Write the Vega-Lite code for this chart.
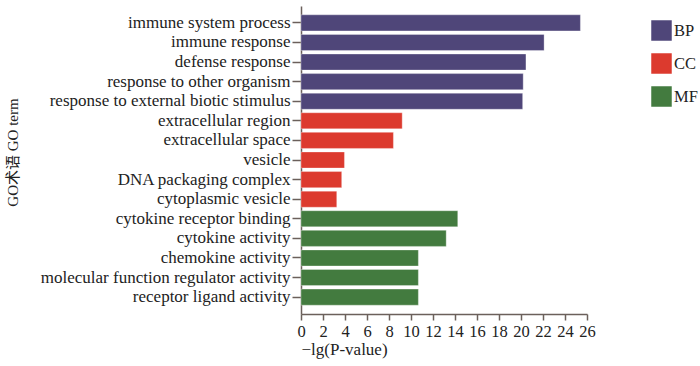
{
  "$schema": "https://vega.github.io/schema/vega-lite/v6.json",
  "width": 286,
  "height": 308,
  "autosize": {"type": "none"},
  "padding": {"left": 301, "top": 6, "right": 113, "bottom": 52},
  "background": "white",
  "config": {"view": {"stroke": null}, "font": "Liberation Serif"},
  "data": {
    "values": [
      {"term": "immune system process", "value": 25.4, "cat": "BP"},
      {"term": "immune response", "value": 22.1, "cat": "BP"},
      {"term": "defense response", "value": 20.45, "cat": "BP"},
      {"term": "response to other organism", "value": 20.2, "cat": "BP"},
      {"term": "response to external biotic stimulus", "value": 20.15, "cat": "BP"},
      {"term": "extracellular region", "value": 9.2, "cat": "CC"},
      {"term": "extracellular space", "value": 8.4, "cat": "CC"},
      {"term": "vesicle", "value": 3.95, "cat": "CC"},
      {"term": "DNA packaging complex", "value": 3.7, "cat": "CC"},
      {"term": "cytoplasmic vesicle", "value": 3.25, "cat": "CC"},
      {"term": "cytokine receptor binding", "value": 14.25, "cat": "MF"},
      {"term": "cytokine activity", "value": 13.2, "cat": "MF"},
      {"term": "chemokine activity", "value": 10.67, "cat": "MF"},
      {"term": "molecular function regulator activity", "value": 10.67, "cat": "MF"},
      {"term": "receptor ligand activity", "value": 10.67, "cat": "MF"}
    ]
  },
  "mark": {"type": "bar", "stroke": "#ffffff", "strokeOpacity": 0.4, "strokeWidth": 0.8},
  "encoding": {
    "y": {
      "field": "term",
      "type": "nominal",
      "sort": null,
      "scale": {"paddingInner": 0.18, "paddingOuter": 0.45},
      "axis": {
        "title": "GO术语 GO term",
        "titleFont": "Liberation Serif, Noto Sans CJK SC",
        "titleFontSize": 15,
        "titleFontWeight": "normal",
        "titleColor": "#222222",
        "titleX": -289,
        "titleY": 146,
        "titleBaseline": "middle",
        "labelFont": "Liberation Serif",
        "labelFontSize": 17,
        "labelLimit": 0,
        "labelColor": "#222222",
        "labelPadding": 2,
        "tickSize": 9,
        "tickColor": "#6b605b",
        "tickWidth": 1.5,
        "domainColor": "#6b605b",
        "domainWidth": 1.5
      }
    },
    "x": {
      "field": "value",
      "type": "quantitative",
      "scale": {"domain": [0, 26], "nice": false},
      "axis": {
        "title": "−lg(P-value)",
        "titleFont": "Liberation Serif",
        "titleFontSize": 17,
        "titleFontWeight": "normal",
        "titleColor": "#222222",
        "titleAnchor": "start",
        "titleAlign": "left",
        "titleX": 0,
        "titlePadding": 2,
        "values": [0, 2, 4, 6, 8, 10, 12, 14, 16, 18, 20, 22, 24, 26],
        "labelFont": "Liberation Serif",
        "labelFontSize": 16.5,
        "labelColor": "#222222",
        "labelFlush": false,
        "labelOverlap": false,
        "labelPadding": 3,
        "tickSize": 6,
        "tickColor": "#6b605b",
        "tickWidth": 1.5,
        "domainColor": "#6b605b",
        "domainWidth": 1.5,
        "grid": false
      }
    },
    "color": {
      "field": "cat",
      "type": "nominal",
      "scale": {"domain": ["BP", "CC", "MF"], "range": ["#4f4679", "#dc3a2e", "#437b3f"]},
      "legend": {
        "title": null,
        "orient": "none",
        "legendX": 350,
        "legendY": 14,
        "symbolType": "square",
        "symbolSize": 420,
        "symbolStrokeWidth": 0,
        "rowPadding": 12,
        "labelFont": "Liberation Serif",
        "labelFontSize": 16.5,
        "labelColor": "#222222",
        "labelOffset": 2
      }
    }
  }
}
